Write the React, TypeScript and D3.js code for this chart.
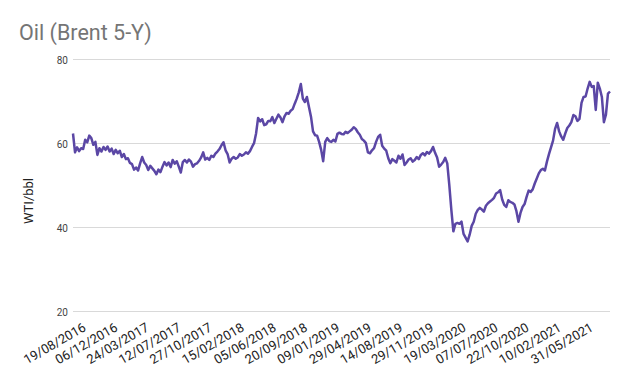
import { line, scaleLinear, scaleTime, select, timeDay, timeParse } from "d3";
import { useEffect, useRef } from "react";

const title = "Oil (Brent 5-Y)";
const yLabel = "WTI/bbl";
const yTicks = [20, 40, 60, 80];
const xTickLabels = [
  "19/08/2016",
  "06/12/2016",
  "24/03/2017",
  "12/07/2017",
  "27/10/2017",
  "15/02/2018",
  "05/06/2018",
  "20/09/2018",
  "09/01/2019",
  "29/04/2019",
  "14/08/2019",
  "29/11/2019",
  "19/03/2020",
  "07/07/2020",
  "22/10/2020",
  "10/02/2021",
  "31/05/2021",
];
// weekly closes, first week starting here
const firstWeek = "18/07/2016";
const brent = [
  62.5, 58.0, 59.2, 58.3, 59.0, 58.8, 61.0, 60.4, 62.0, 61.4,
  59.8, 60.5, 57.4, 59.0, 58.2, 59.3, 58.6, 59.4, 58.2, 58.9,
  57.6, 58.6, 57.8, 58.4, 56.9, 57.6, 56.4, 56.6, 55.5, 55.2,
  53.9, 54.4, 53.7, 55.4, 56.9, 55.6, 55.0, 53.8, 54.8, 54.2,
  53.6, 52.8, 53.9, 53.3, 54.6, 55.7, 54.9, 55.6, 54.5, 56.2,
  55.3, 55.9, 54.6, 53.2, 55.7, 56.2, 55.6, 56.3, 55.8, 54.6,
  55.2, 55.4, 56.0, 56.8, 58.0, 56.3, 56.7, 56.2, 57.2, 56.9,
  57.7, 58.2, 58.8, 59.7, 60.4, 58.5, 57.6, 55.6, 56.5, 56.9,
  56.5, 56.8, 57.6, 57.2, 57.5, 58.0, 57.7, 58.3, 59.3, 60.2,
  62.5, 66.2, 65.4, 65.9, 64.5, 64.7, 65.5, 65.4, 66.4, 65.0,
  66.0, 67.0, 66.3, 65.2, 66.6, 67.4, 67.2, 67.9, 68.3, 69.6,
  70.8, 72.3, 74.3, 70.8, 70.0, 71.2, 68.8, 66.5, 63.0, 62.1,
  62.0, 60.5, 58.6, 55.9, 60.5, 61.4, 60.7, 60.5, 61.0, 60.6,
  62.4, 62.7, 62.4, 62.3, 62.9, 62.6, 63.0, 63.4, 64.0, 63.6,
  62.8, 62.2, 61.2, 60.8, 60.2, 58.0, 57.8, 58.5, 59.0, 60.5,
  61.7, 62.2, 59.6, 58.9, 58.4, 56.6, 55.4, 56.4, 56.0, 55.6,
  57.2, 56.5, 57.5, 55.0, 55.6, 56.3, 56.6, 55.8, 56.2, 56.9,
  56.4, 57.4, 57.8, 57.3, 58.1, 57.7, 58.3, 59.3, 57.9, 56.8,
  54.6, 55.1, 55.7, 56.7, 55.4, 50.2, 44.3, 39.2, 41.0, 41.2,
  41.0, 41.5, 38.6, 37.7, 36.8, 38.4, 40.5, 41.5, 43.4, 44.3,
  44.8, 44.4, 43.9, 45.3, 45.9, 46.3, 46.7, 47.2, 48.2, 48.5,
  49.0, 46.8, 45.5, 45.0, 46.6, 46.2, 46.0, 45.6, 44.0, 41.5,
  43.6, 45.0, 45.7, 47.4, 48.9, 48.6, 49.2, 50.6, 51.8, 53.0,
  53.8, 54.1, 53.7, 55.8, 57.6, 59.2, 60.8, 63.6, 65.0, 63.0,
  61.8, 61.0, 62.5, 63.8, 64.4, 65.2, 66.9, 66.6, 65.5, 66.0,
  69.8, 71.2, 71.3, 73.2, 74.8, 73.6, 73.8, 68.1, 74.6, 73.2,
  71.2, 65.2, 67.0, 72.0, 72.5,
];

const width = 630;
const height = 375;
const margin = { top: 60, right: 20, bottom: 63, left: 73 };
const font = "Roboto, 'Noto Sans', sans-serif";
const parseDate = timeParse("%d/%m/%Y");

const App = () => {
  const ref = useRef<SVGSVGElement>(null);

  useEffect(() => {
    if (!ref.current) return;
    const svg = select(ref.current);
    svg.selectAll("*").remove();

    const start = parseDate(firstWeek) as Date;
    const data = brent.map((v, i) => ({ date: timeDay.offset(start, i * 7), value: v }));
    const end = data[data.length - 1].date;

    const x = scaleTime()
      .domain([start, end])
      .range([margin.left, width - margin.right]);
    const y = scaleLinear()
      .domain([20, 80])
      .range([height - margin.bottom, margin.top]);

    svg.append("rect").attr("width", width).attr("height", height).attr("fill", "#fff");

    svg
      .append("text")
      .attr("x", 19)
      .attr("y", 40)
      .attr("font-family", font)
      .attr("font-size", 21.5)
      .attr("fill", "#757575")
      .text(title);

    const grid = svg.append("g");
    grid
      .selectAll("line")
      .data(yTicks)
      .join("line")
      .attr("x1", margin.left)
      .attr("x2", width - margin.right)
      .attr("y1", (d) => Math.round(y(d)) - 0.5)
      .attr("y2", (d) => Math.round(y(d)) - 0.5)
      .attr("stroke", "#d9d9d9")
      .attr("stroke-width", 1.2);

    grid
      .selectAll("text")
      .data(yTicks)
      .join("text")
      .attr("x", 68)
      .attr("y", (d) => y(d))
      .attr("dy", "0.35em")
      .attr("text-anchor", "end")
      .attr("font-family", font)
      .attr("font-size", 10)
      .attr("fill", "#444")
      .text((d) => d);

    svg
      .append("text")
      .attr("transform", `translate(33,201) rotate(-90)`)
      .attr("text-anchor", "middle")
      .attr("font-family", font)
      .attr("font-size", 13)
      .attr("fill", "#222")
      .text(yLabel);

    svg
      .append("g")
      .selectAll("text")
      .data(xTickLabels)
      .join("text")
      .attr("transform", (d) => `translate(${x(parseDate(d) as Date) + 4.5},330) rotate(-30)`)
      .attr("text-anchor", "end")
      .attr("font-family", font)
      .attr("font-size", 13)
      .attr("fill", "#222")
      .text((d) => d);

    const path = line<{ date: Date; value: number }>()
      .x((d) => x(d.date))
      .y((d) => y(d.value));

    svg
      .append("path")
      .datum(data)
      .attr("d", path)
      .attr("fill", "none")
      .attr("stroke", "#5b47a5")
      .attr("stroke-width", 2.5)
      .attr("stroke-linejoin", "round");
  }, []);

  return (
    <svg
      ref={ref}
      width={width}
      height={height}
      style={{ position: "absolute", left: 0, top: 0 }}
    />
  );
};

export default App;
